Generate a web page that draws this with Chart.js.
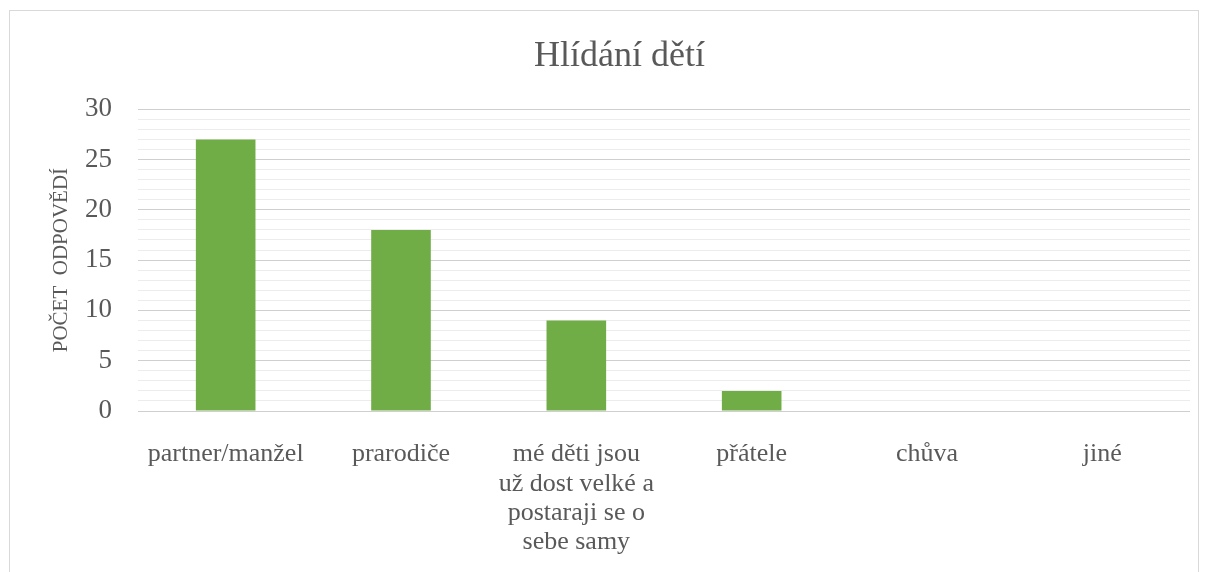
<!DOCTYPE html>
<html>
<head>
<meta charset="utf-8">
<script src="https://cdn.jsdelivr.net/npm/chart.js@4"></script>
<style>
    body { margin: 0; background: #fff; }
    #ram { position: absolute; left: 9px; top: 10px; width: 1190px; height: 600px; border: 1px solid #d9d9d9; box-sizing: border-box; pointer-events: none; }
    #graf { position: absolute; left: 0; top: 0; }
</style>
</head>
<body>
<canvas id="graf" width="1206" height="572"></canvas>
<div id="ram"></div>
<script>
const kategorie = [
    'partner/manžel',
    'prarodiče',
    ['mé děti jsou', 'už dost velké a', 'postaraji se o', 'sebe samy'],
    'přátele',
    'chůva',
    'jiné'
];
const pocty = [27, 18, 9, 2, 0, 0];
const osaY = { min: 0, max: 30, krok: 1, hlavni: 5 };

const pismo = 'Liberation Serif, Times New Roman, serif';
const sedaText = '#595959';

new Chart(document.getElementById('graf'), {
    type: 'bar',
    data: {
        labels: kategorie,
        datasets: [{
            label: 'Počet odpovědí',
            data: pocty,
            backgroundColor: '#70AD47',
            borderWidth: 0,
            categoryPercentage: 1,
            barPercentage: 0.34
        }]
    },
    options: {
        responsive: false,
        animation: false,
        layout: { padding: { left: 49, right: 16, top: 0, bottom: 0 } },
        plugins: {
            legend: { display: false },
            tooltip: { enabled: false },
            title: {
                display: true,
                text: 'Hlídání dětí',
                color: sedaText,
                font: { family: pismo, size: 36, weight: 'normal', lineHeight: 1.2 },
                padding: { top: 35, bottom: 31 }
            }
        },
        scales: {
            y: {
                min: osaY.min,
                max: osaY.max,
                afterFit: s => { s.width = 89; },
                border: { display: false },
                grid: {
                    drawTicks: false,
                    color: c => (c.tick.value % osaY.hlavni === 0 ? '#cfcfcf' : '#ececec')
                },
                ticks: {
                    stepSize: osaY.krok,
                    autoSkip: false,
                    padding: 26,
                    color: sedaText,
                    font: { family: pismo, size: 27 },
                    callback: v => (v % osaY.hlavni === 0 ? v : '')
                },
                title: {
                    display: true,
                    text: 'POČET  ODPOVĚDÍ',
                    color: sedaText,
                    font: { family: pismo, size: 21, lineHeight: 1.2 },
                    padding: { top: 0, bottom: 0 }
                }
            },
            x: {
                afterFit: s => { s.height = 161; },
                border: { display: false },
                grid: { display: false },
                ticks: {
                    maxRotation: 0,
                    autoSkip: false,
                    padding: 21,
                    color: sedaText,
                    font: { family: pismo, size: 26, lineHeight: 1.12 }
                }
            }
        }
    }
});
</script>
</body>
</html>
